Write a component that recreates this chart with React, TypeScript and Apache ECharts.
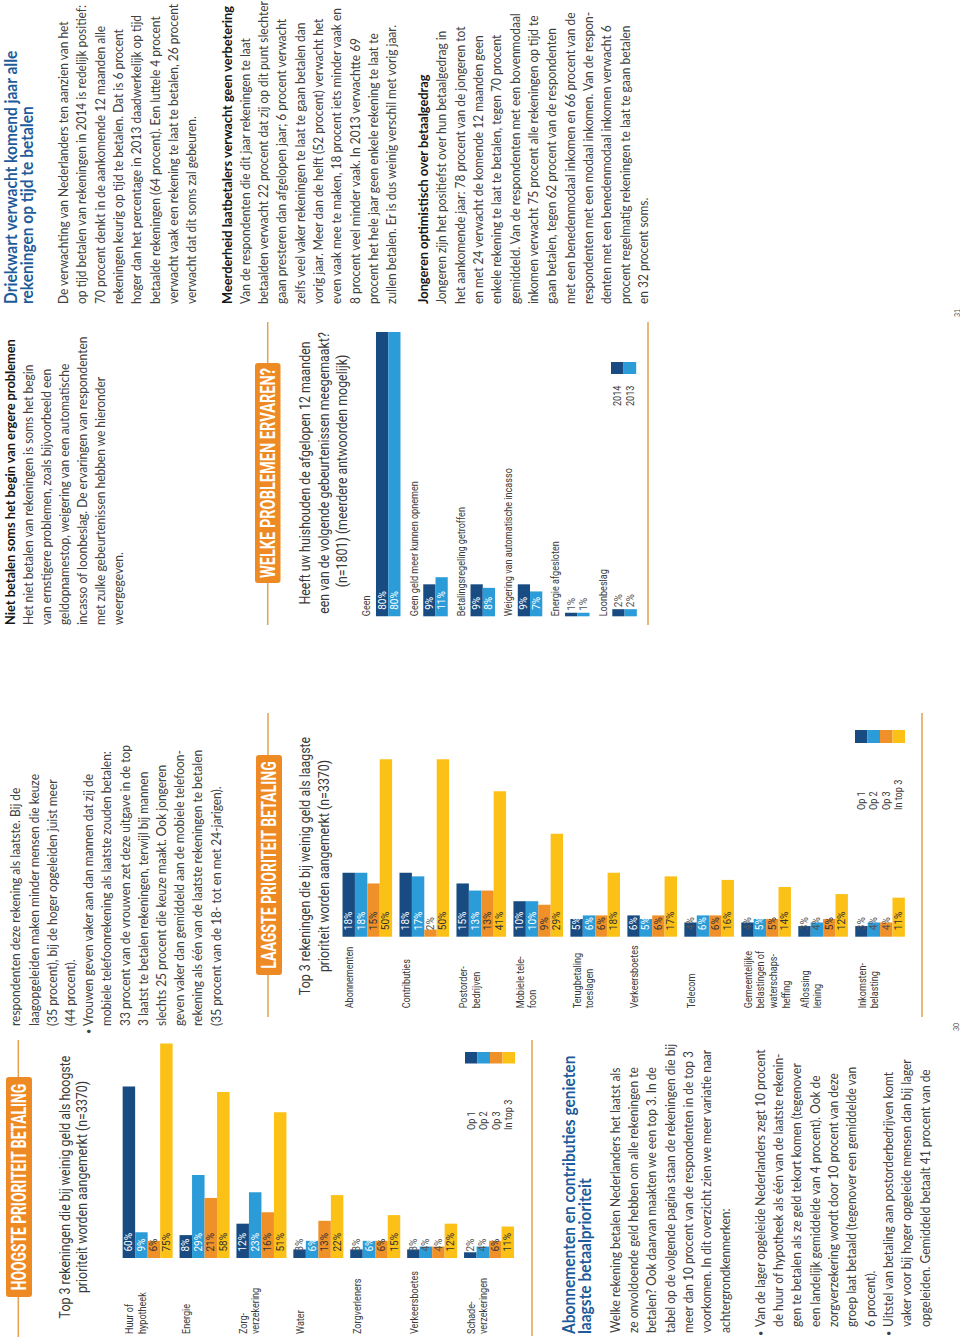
import React, { useEffect, useRef } from 'react';
import * as echarts from 'echarts';

// ---------------- DATA ----------------
const hoogCats = ['Huur of\nhypotheek', 'Energie', 'Zorg-\nverzekering', 'Water', 'Zorgverleners', 'Verkeersboetes', 'Schade-\nverzekeringen'];
const hoogOp1 = [60, 8, 12, 3, 3, 3, 2];
const hoogOp2 = [9, 29, 23, 6, 6, 4, 4];
const hoogOp3 = [6, 21, 16, 13, 6, 4, 6];
const hoogTop3 = [75, 58, 51, 22, 15, 12, 11];

const laagCats = ['Abonnementen', 'Contributies', 'Postorder-\nbedrijven', 'Mobiele tele-\nfoon', 'Terugbetaling\ntoeslagen', 'Verkeersboetes', 'Telecom', 'Gemeentelijke\nbelastingen of\nwaterschaps-\nheffing', 'Aflossing\nlening', 'Inkomsten-\nbelasting'];
const laagOp1 = [18, 18, 15, 10, 5, 6, 4, 4, 3, 3];
const laagOp2 = [18, 17, 13, 10, 6, 5, 6, 5, 4, 4];
const laagOp3 = [15, 2, 13, 9, 6, 6, 6, 5, 5, 4];
const laagTop3 = [50, 50, 41, 29, 18, 17, 16, 14, 12, 11];

const probCats = ['Geen', 'Geen geld meer kunnen opnemen', 'Betalingsregeling getroffen', 'Weigering van automatische incasso', 'Energie afgesloten', 'Loonbeslag'];
const prob2014 = [80, 9, 9, 9, 1, 2];
const prob2013 = [80, 11, 8, 7, 1, 2];

const rankNames = ['Op 1', 'Op 2', 'Op 3', 'In top 3'];
const yearNames = ['2014', '2013'];

// ---------------- TEXTS ----------------
const col1Head = ['Abonnementen en contributies genieten', 'laagste betaalprioriteit'];
const col1Para = [
  'Welke rekening betalen Nederlanders het laatst als',
  'ze onvoldoende geld hebben om alle rekeningen te',
  'betalen? Ook daarvan maakten we een top 3. In de',
  'tabel op de volgende pagina staan de rekeningen die bij',
  'meer dan 10 procent van de respondenten in de top 3',
  'voorkomen. In dit overzicht zien we meer variatie naar',
  'achtergrondkenmerken:',
];
const col1Bullet1 = [
  'Van de lager opgeleide Nederlanders zegt 10 procent',
  'de huur of hypotheek als één van de laatste rekenin-',
  'gen te betalen als ze geld tekort komen (tegenover',
  'een landelijk gemiddelde van 4 procent). Ook de',
  'zorgverzekering wordt door 10 procent van deze',
  'groep laat betaald (tegenover een gemiddelde van',
  '6 procent).',
];
const col1Bullet2 = [
  'Uitstel van betaling aan postorderbedrijven komt',
  'vaker voor bij hoger opgeleide mensen dan bij lager',
  'opgeleiden. Gemiddeld betaalt 41 procent van de',
];
const col2Cont = [
  'respondenten deze rekening als laatste. Bij de',
  'laagopgeleiden maken minder mensen die keuze',
  '(35 procent), bij de hoger opgeleiden juist meer',
  '(44 procent).',
];
const col2Bullet = [
  'Vrouwen geven vaker aan dan mannen dat zij de',
  'mobiele telefoonrekening als laatste zouden betalen:',
  '33 procent van de vrouwen zet deze uitgave in de top',
  '3 laatst te betalen rekeningen, terwijl bij mannen',
  'slechts 25 procent die keuze maakt. Ook jongeren',
  'geven vaker dan gemiddeld aan de mobiele telefoon-',
  'rekening als één van de laatste rekeningen te betalen',
  '(35 procent van de 18- tot en met 24-jarigen).',
];
const col3Head = 'Niet betalen soms het begin van ergere problemen';
const col3Para = [
  'Het niet betalen van rekeningen is soms het begin',
  'van ernstigere problemen, zoals bijvoorbeeld een',
  'geldopnamestop, weigering van een automatische',
  'incasso of loonbeslag. De ervaringen van respondenten',
  'met zulke gebeurtenissen hebben we hieronder',
  'weergegeven.',
];
const col4Head = ['Driekwart verwacht komend jaar alle', 'rekeningen op tijd te betalen'];
const col4Para1 = [
  'De verwachting van Nederlanders ten aanzien van het',
  'op tijd betalen van rekeningen in 2014 is redelijk positief:',
  '70 procent denkt in de aankomende 12 maanden alle',
  'rekeningen keurig op tijd te betalen. Dat is 6 procent',
  'hoger dan het percentage in 2013 daadwerkelijk op tijd',
  'betaalde rekeningen (64 procent). Een luttele 4 procent',
  'verwacht vaak een rekening te laat te betalen, 26 procent',
  'verwacht dat dit soms zal gebeuren.',
];
const col4Head2 = 'Meerderheid laatbetalers verwacht geen verbetering';
const col4Para2 = [
  'Van de respondenten die dit jaar rekeningen te laat',
  'betaalden verwacht 22 procent dat zij op dit punt slechter',
  'gaan presteren dan afgelopen jaar; 6 procent verwacht',
  'zelfs veel vaker rekeningen te laat te gaan betalen dan',
  'vorig jaar. Meer dan de helft (52 procent) verwacht het',
  'even vaak mee te maken, 18 procent iets minder vaak en',
  '8 procent veel minder vaak. In 2013 verwachtte 69',
  'procent het hele jaar geen enkele rekening te laat te',
  'zullen betalen. Er is dus weinig verschil met vorig jaar.',
];
const col4Head3 = 'Jongeren optimistisch over betaalgedrag';
const col4Para3 = [
  'Jongeren zijn het positiefst over hun betaalgedrag in',
  'het aankomende jaar: 78 procent van de jongeren tot',
  'en met 24 verwacht de komende 12 maanden geen',
  'enkele rekening te laat te betalen, tegen 70 procent',
  'gemiddeld. Van de respondenten met een bovenmodaal',
  'inkomen verwacht 75 procent alle rekeningen op tijd te',
  'gaan betalen, tegen 62 procent van de respondenten',
  'met een benedenmodaal inkomen en 66 procent van de',
  'respondenten met een modaal inkomen. Van de respon-',
  'denten met een benedenmodaal inkomen verwacht 6',
  'procent regelmatig rekeningen te laat te gaan betalen',
  'en 32 procent soms.',
];

// ---------------- STYLE ----------------
const ROT = Math.PI / 2;
const C_DARK = '#174b81';
const C_LIGHT = '#2b9cd8';
const C_ORANGE = '#ef9029';
const C_YELLOW = '#fcc117';
const BOX = '#ee8a24';
const RULE = '#e2a24e';
const TXT = '#404040';
const CHTXT = '#3a3a3a';
const BLUE = '#1d5b9a';
const CH = 'Roboto';
const BF = 'Lato';

let mctx: any = null;
function tw(s: string, font: string) {
  if (!mctx) mctx = document.createElement('canvas').getContext('2d');
  mctx.font = font;
  return mctx.measureText(s).width || 1;
}
function fit(sample: string, target: number, weight: string, size: number, fam: string) {
  return target / tw(sample, `${weight} ${size}px ${fam}`);
}

function rt(x: number, y: number, text: string, o: any) {
  return {
    type: 'text', x, y, rotation: ROT, scaleX: o.scale ?? 1, silent: true,
    style: {
      text, fill: o.fill ?? TXT, fontSize: o.size, fontFamily: o.family, fontWeight: o.weight ?? 'normal',
      lineHeight: o.lh ?? o.size * 1.2,
      align: o.align ?? 'left', textAlign: o.align ?? 'left',
      verticalAlign: o.va ?? 'top', textVerticalAlign: o.va ?? 'top',
    },
  };
}

function buildOption() {
  const sBody = fit('verwacht vaak een rekening te laat te betalen, 26 procent', 300.7, 'normal', 13, BF);
  const sBold = fit('Meerderheid laatbetalers verwacht geen verbetering', 299, 'bold', 13, BF);
  const sBlue = fit('Driekwart verwacht komend jaar alle', 254, 'bold', 16.5, BF);
  const sSub = fit('Top 3 rekeningen die bij weinig geld als hoogste', 263, 'normal', 14, CH);
  const sCat = fit('Verkeersboetes', 63, 'normal', 10, CH);

  const body = { size: 13, family: BF, scale: sBody, lh: 18.33, fill: TXT };
  const bold = { size: 13, family: BF, scale: sBold, lh: 18.33, fill: '#161616', weight: 'bold' };
  const blue = { size: 16.5, family: BF, scale: sBlue, lh: 16.2, fill: BLUE, weight: 'bold' };
  const sub = { size: 14, family: CH, scale: sSub, fill: CHTXT, align: 'center', va: 'middle' };

  const para = (xc: number, y: number, lines: string[], st: any) =>
    rt(xc - st.lh / 2, y, lines.join('\n'), st);

  const g: any[] = [];

  // rules
  const rule = (x: number, y1: number, y2: number) =>
    g.push({ type: 'line', silent: true, shape: { x1: x, y1, x2: x, y2 }, style: { stroke: RULE, lineWidth: 1.5 } });
  rule(18.3, 1040, 1337); rule(532, 1040, 1336);
  rule(268, 713, 1017); rule(922, 713, 1017);
  rule(267.7, 322, 625); rule(648, 322, 625);

  // title boxes
  const titleBox = (x: number, y: number, w: number, h: number, text: string, len: number) => {
    g.push({ type: 'rect', silent: true, shape: { x, y, width: w, height: h, r: 3 }, style: { fill: BOX } });
    g.push(rt(x + w / 2, y + h / 2, text, {
      size: 20, family: CH, weight: 'bold', fill: '#ffffff', align: 'center', va: 'middle',
      scale: fit(text, len, 'bold', 20, CH),
    }));
  };
  titleBox(6, 1077, 26, 220, 'HOOGSTE PRIORITEIT BETALING', 207);
  titleBox(256, 755, 26, 220, 'LAAGSTE PRIORITEIT BETALING', 208);
  titleBox(255, 363, 25.5, 220, 'WELKE PROBLEMEN ERVAREN?', 210);

  // chart subtitles
  g.push(rt(65, 1187, 'Top 3 rekeningen die bij weinig geld als hoogste', sub));
  g.push(rt(82, 1187, 'prioriteit worden aangemerkt (n=3370)', sub));
  g.push(rt(305, 866, 'Top 3 rekeningen die bij weinig geld als laagste', sub));
  g.push(rt(324, 866, 'prioriteit worden aangemerkt (n=3370)', sub));
  g.push(rt(305, 473, 'Heeft uw huishouden de afgelopen 12 maanden', sub));
  g.push(rt(324, 473, 'een van de volgende gebeurtenissen meegemaakt?', sub));
  g.push(rt(342, 471, '(n=1801) (meerdere antwoorden mogelijk)', sub));

  // legends
  const legend = (x: number, y: number, h: number, w: number, colors: string[], names: string[], ty: number) => {
    colors.forEach((c, i) => g.push({ type: 'rect', silent: true, shape: { x: x + i * w, y, width: w, height: h }, style: { fill: c } }));
    g.push(rt(x, ty, names.join('\n'), { size: 10, family: CH, scale: sCat, lh: w, fill: CHTXT }));
  };
  legend(465, 1052, 11.5, 12.5, [C_DARK, C_LIGHT, C_ORANGE, C_YELLOW], rankNames, 1130);
  legend(855, 730, 13, 12.5, [C_DARK, C_LIGHT, C_ORANGE, C_YELLOW], rankNames, 810);
  legend(611, 362, 12, 12.6, [C_DARK, C_LIGHT], yearNames, 406);

  // column 1 text
  g.push(para(568.3, 1334, col1Head, { ...blue, lh: 15.7 }));
  g.push(para(615, 1333, col1Para, body));
  g.push(rt(760, 1336, '•', { size: 9, family: BF, fill: TXT, va: 'middle' }));
  g.push(para(760, 1327, col1Bullet1, body));
  g.push(rt(888.3, 1336, '•', { size: 9, family: BF, fill: TXT, va: 'middle' }));
  g.push(para(888.3, 1327, col1Bullet2, body));

  // column 2 text
  const b2 = { ...body, lh: 18.2 };
  g.push(para(15.7, 1026, col2Cont, b2));
  g.push(rt(88.5, 1034, '•', { size: 9, family: BF, fill: TXT, va: 'middle' }));
  g.push(para(88.5, 1026, col2Bullet, b2));

  // column 3 text
  g.push(para(10, 625, [col3Head], { ...bold, lh: 18 }));
  g.push(para(28.3, 625, col3Para, { ...body, lh: 18 }));

  // column 4 text
  g.push(para(10, 304, col4Head, { ...blue, lh: 16.7 }));
  g.push(para(63.3, 304, col4Para1, body));
  g.push(para(226.7, 304, [col4Head2], bold));
  g.push(para(245, 304, col4Para2, body));
  g.push(para(423.3, 304, [col4Head3], bold));
  g.push(para(441.7, 304, col4Para3, body));

  // page numbers
  g.push(rt(956, 1027, '30', { size: 7, family: BF, fill: '#555', align: 'center', va: 'middle' }));
  g.push(rt(957, 313, '31', { size: 7, family: BF, fill: '#555', align: 'center', va: 'middle' }));

  // ---------- charts ----------
  const geos = [
    { left: 119.2, width: 398.3, base: 1258, ppp: 2.86, barW: 12.5, n: 4, catDx: 0.5, catDy: 76, catVA: 'top', cats: hoogCats },
    { left: 338.85, width: 569.7, base: 936.7, ppp: 3.55, barW: 12.4, n: 4, catDx: 0.5, catDy: 71.6, catVA: 'top', cats: laagCats },
    { left: 364.6, width: 283.6, base: 616.3, ppp: 3.554, barW: 12.25, n: 2, catDx: -9.3, catDy: 0, catVA: 'middle', cats: probCats },
  ];
  const LD = 6.5;
  const labelLen = (v: number) => String(v).length * 5.6 + 7.3;

  const grid = geos.map((gg) => ({ left: gg.left, width: gg.width, top: gg.base - 100 * gg.ppp, height: 100 * gg.ppp }));
  const xAxis = geos.map((gg, i) => ({ type: 'category', gridIndex: i, data: gg.cats, show: false }));
  const yAxis = geos.map((_, i) => ({ type: 'value', gridIndex: i, min: 0, max: 100, show: false }));

  const bar = (name: string, values: number[], color: string, gi: number, lc: string, outside: boolean) => {
    const gg = geos[gi];
    return {
      type: 'bar', name, xAxisIndex: gi, yAxisIndex: gi, barWidth: gg.barW, barGap: '0%',
      itemStyle: { color },
      label: {
        show: true, position: 'insideBottom', rotate: 90, align: 'left', verticalAlign: 'middle',
        distance: LD, fontSize: 10, fontFamily: CH, color: lc, formatter: '{c}%',
      },
      data: values.map((v) => {
        if (v * gg.ppp >= labelLen(v) + LD - 4) return v;
        if (outside) return { value: v, label: { position: 'top', distance: 2, color: '#555' } };
        return { value: v, label: { color: '#555' } };
      }),
    };
  };

  const catSeries = (gi: number) => {
    const gg = geos[gi];
    return {
      type: 'custom', xAxisIndex: gi, yAxisIndex: gi, silent: true, clip: false,
      data: gg.cats.map((_, i) => [i, 0]),
      renderItem: (params: any, api: any) => {
        const i = api.value(0);
        const p = api.coord([i, 0]);
        const left = p[0] - (gg.n * gg.barW) / 2;
        return {
          type: 'text', x: left + gg.catDx, y: p[1] + gg.catDy, rotation: ROT, scaleX: sCat,
          style: {
            text: gg.cats[i], fill: CHTXT, fontSize: 10, fontFamily: CH, lineHeight: 12.6,
            align: 'left', textAlign: 'left', verticalAlign: gg.catVA, textVerticalAlign: gg.catVA,
          },
        };
      },
    };
  };

  const series: any[] = [
    bar('Op 1', hoogOp1, C_DARK, 0, '#ffffff', false),
    bar('Op 2', hoogOp2, C_LIGHT, 0, '#ffffff', false),
    bar('Op 3', hoogOp3, C_ORANGE, 0, '#333333', false),
    bar('In top 3', hoogTop3, C_YELLOW, 0, '#333333', false),
    bar('Op 1', laagOp1, C_DARK, 1, '#ffffff', false),
    bar('Op 2', laagOp2, C_LIGHT, 1, '#ffffff', false),
    bar('Op 3', laagOp3, C_ORANGE, 1, '#333333', false),
    bar('In top 3', laagTop3, C_YELLOW, 1, '#333333', false),
    bar('2014', prob2014, C_DARK, 2, '#ffffff', true),
    bar('2013', prob2013, C_LIGHT, 2, '#ffffff', true),
    catSeries(0), catSeries(1), catSeries(2),
  ];

  return {
    animation: false,
    backgroundColor: '#ffffff',
    grid, xAxis, yAxis, series,
    graphic: { elements: g },
  };
}

export default function App() {
  const ref = useRef<HTMLDivElement>(null);
  useEffect(() => {
    const chart = echarts.init(ref.current!, null, { renderer: 'svg' });
    chart.setOption(buildOption() as any);
    return () => chart.dispose();
  }, []);
  return (
    <div
      ref={ref}
      style={{ position: 'absolute', left: 0, top: 0, width: 960, height: 1342, background: '#ffffff' }}
    />
  );
}
